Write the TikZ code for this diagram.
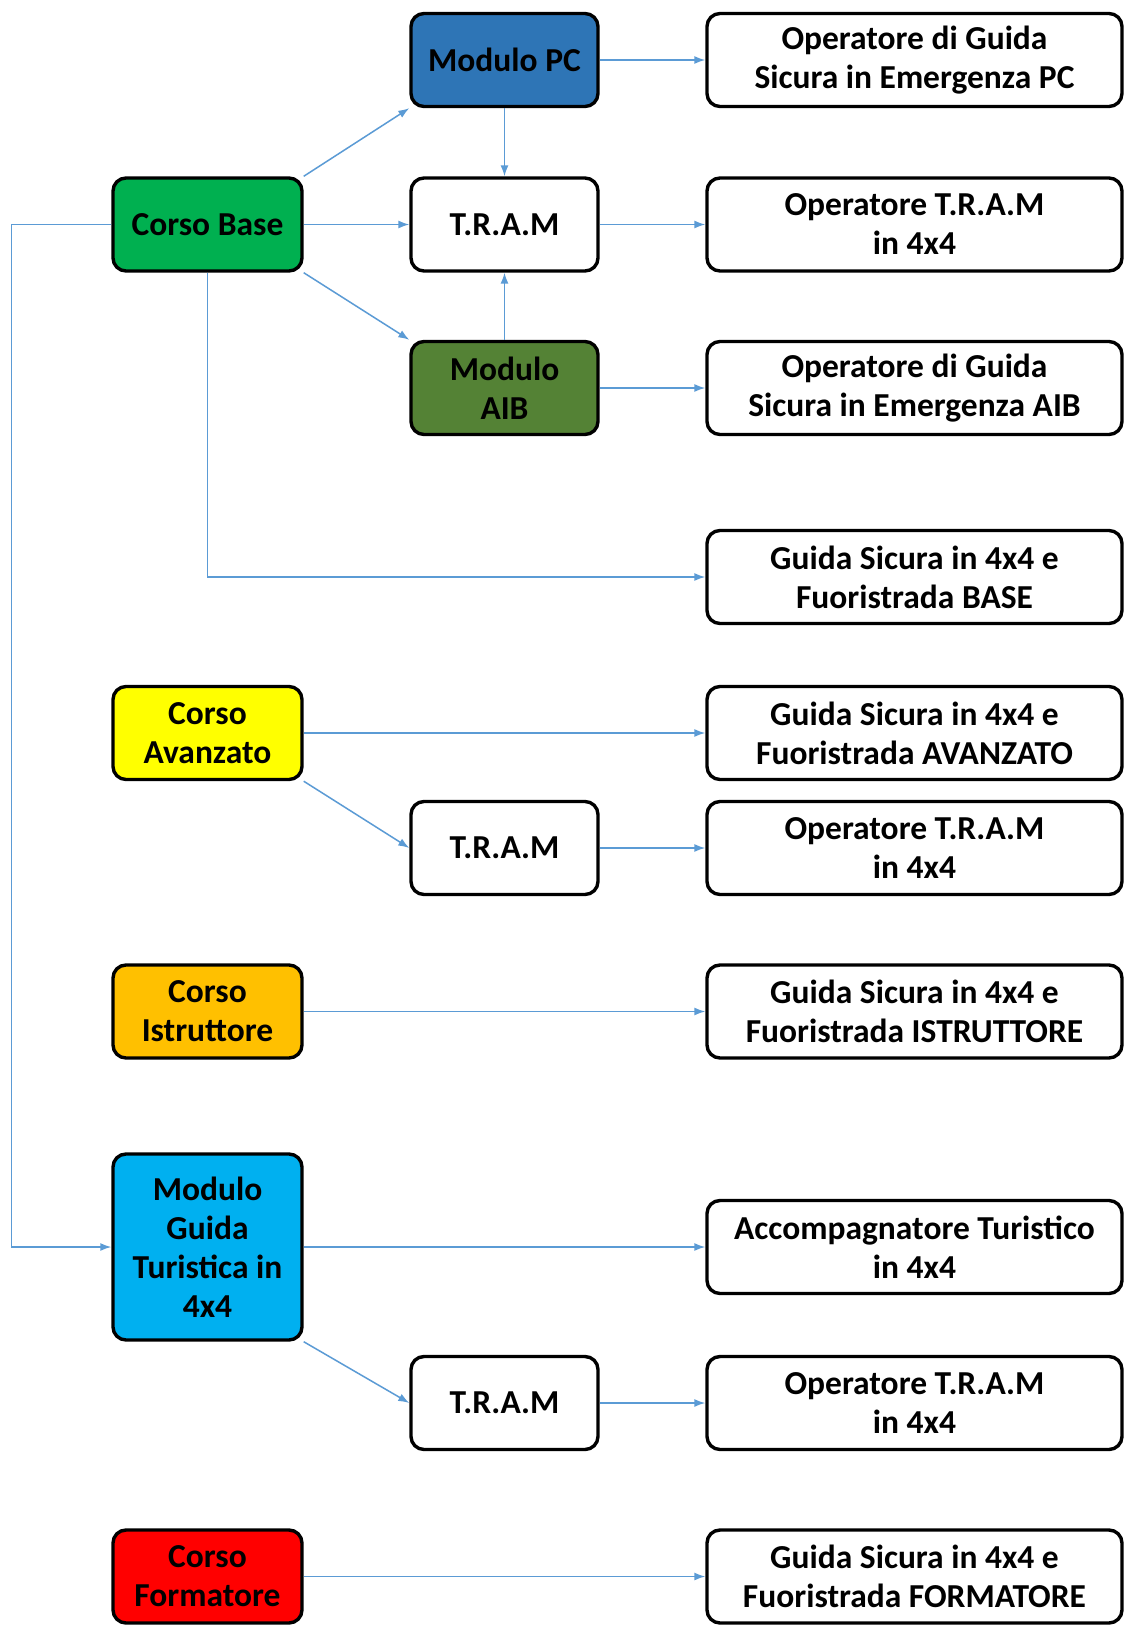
\documentclass[tikz,border=0pt]{standalone}
\usepackage{fontspec}
\setmainfont{Carlito}
\usetikzlibrary{arrows.meta}
\definecolor{arr}{HTML}{5B9BD5}
\definecolor{cblue}{HTML}{2E75B6}
\definecolor{cgreen}{HTML}{00B050}
\definecolor{colive}{HTML}{548235}
\definecolor{cyellow}{HTML}{FFFF00}
\definecolor{corange}{HTML}{FFC000}
\definecolor{ccyan}{HTML}{00B0F0}
\definecolor{cred}{HTML}{FF0000}
\begin{document}
\begin{tikzpicture}[x=1pt,y=-1pt,
  box/.style={draw=black, line width=3.4pt, rounded corners=13pt, align=center,
    font=\bfseries\fontsize{33.5}{39}\selectfont, inner sep=0pt, fill=white},
  leftbox/.style={box, minimum width=189pt, minimum height=93pt},
  midbox/.style={box, minimum width=187pt, minimum height=93pt},
  rightbox/.style={box, minimum width=415pt, minimum height=93pt},
  conn/.style={draw=arr, line width=1.5pt, -{Latex[length=11pt,width=8pt]}}]
\useasboundingbox (0,0) rectangle (1124,1630);
\fill[white] (0,0) rectangle (1124,1630);
% left column
\node[leftbox, fill=cgreen] (cb) at (207.5,224.5) {Corso Base};
\node[leftbox, fill=cyellow] (av) at (207.5,733) {Corso\\Avanzato};
\node[leftbox, fill=corange] (is) at (207.5,1011.5) {Corso\\Istruttore};
\node[leftbox, fill=ccyan, minimum height=186pt] (mg) at (207.5,1247) {Modulo\\Guida\\Turistica in\\4x4};
\node[leftbox, fill=cred] (fo) at (207.5,1576.5) {Corso\\Formatore};
% middle column
\node[midbox, fill=cblue] (pc) at (504.5,60) {Modulo PC};
\node[midbox] (t1) at (504.5,224.5) {T.R.A.M};
\node[midbox, fill=colive] (aib) at (504.5,388) {Modulo\\AIB};
\node[midbox] (t2) at (504.5,848) {T.R.A.M};
\node[midbox] (t3) at (504.5,1403) {T.R.A.M};
% right column
\node[rightbox] (opc) at (914.5,60) {Operatore di Guida\\Sicura in Emergenza PC};
\node[rightbox] (ot1) at (914.5,224.5) {Operatore T.R.A.M\\in 4x4};
\node[rightbox] (oaib) at (914.5,388) {Operatore di Guida\\Sicura in Emergenza AIB};
\node[rightbox] (gb) at (914.5,577) {Guida Sicura in 4x4 e\\Fuoristrada BASE};
\node[rightbox] (gav) at (914.5,733) {Guida Sicura in 4x4 e\\Fuoristrada AVANZATO};
\node[rightbox] (ot2) at (914.5,848) {Operatore T.R.A.M\\in 4x4};
\node[rightbox] (gis) at (914.5,1011.5) {Guida Sicura in 4x4 e\\Fuoristrada ISTRUTTORE};
\node[rightbox] (acc) at (914.5,1247) {Accompagnatore Turistico\\in 4x4};
\node[rightbox] (ot3) at (914.5,1403) {Operatore T.R.A.M\\in 4x4};
\node[rightbox] (gfo) at (914.5,1576.5) {Guida Sicura in 4x4 e\\Fuoristrada FORMATORE};
% connectors
\draw[conn] (cb.north east) -- (pc.south west);
\draw[conn] (cb.east) -- (t1.west);
\draw[conn] (cb.south east) -- (aib.north west);
\draw[conn] (pc.south) -- (t1.north);
\draw[conn] (aib.north) -- (t1.south);
\draw[conn] (pc.east) -- (opc.west);
\draw[conn] (t1.east) -- (ot1.west);
\draw[conn] (aib.east) -- (oaib.west);
\draw[conn] (cb.south) |- (gb.west);
\coordinate (fb) at (11.5,224.5);
\draw[conn] (cb.west) -- (fb) |- (mg.west);
\draw[conn] (av.east) -- (gav.west);
\draw[conn] (av.south east) -- (t2.west);
\draw[conn] (t2.east) -- (ot2.west);
\draw[conn] (is.east) -- (gis.west);
\draw[conn] (mg.east) -- (acc.west);
\draw[conn] (mg.south east) -- (t3.west);
\draw[conn] (t3.east) -- (ot3.west);
\draw[conn] (fo.east) -- (gfo.west);
\end{tikzpicture}
\end{document}
